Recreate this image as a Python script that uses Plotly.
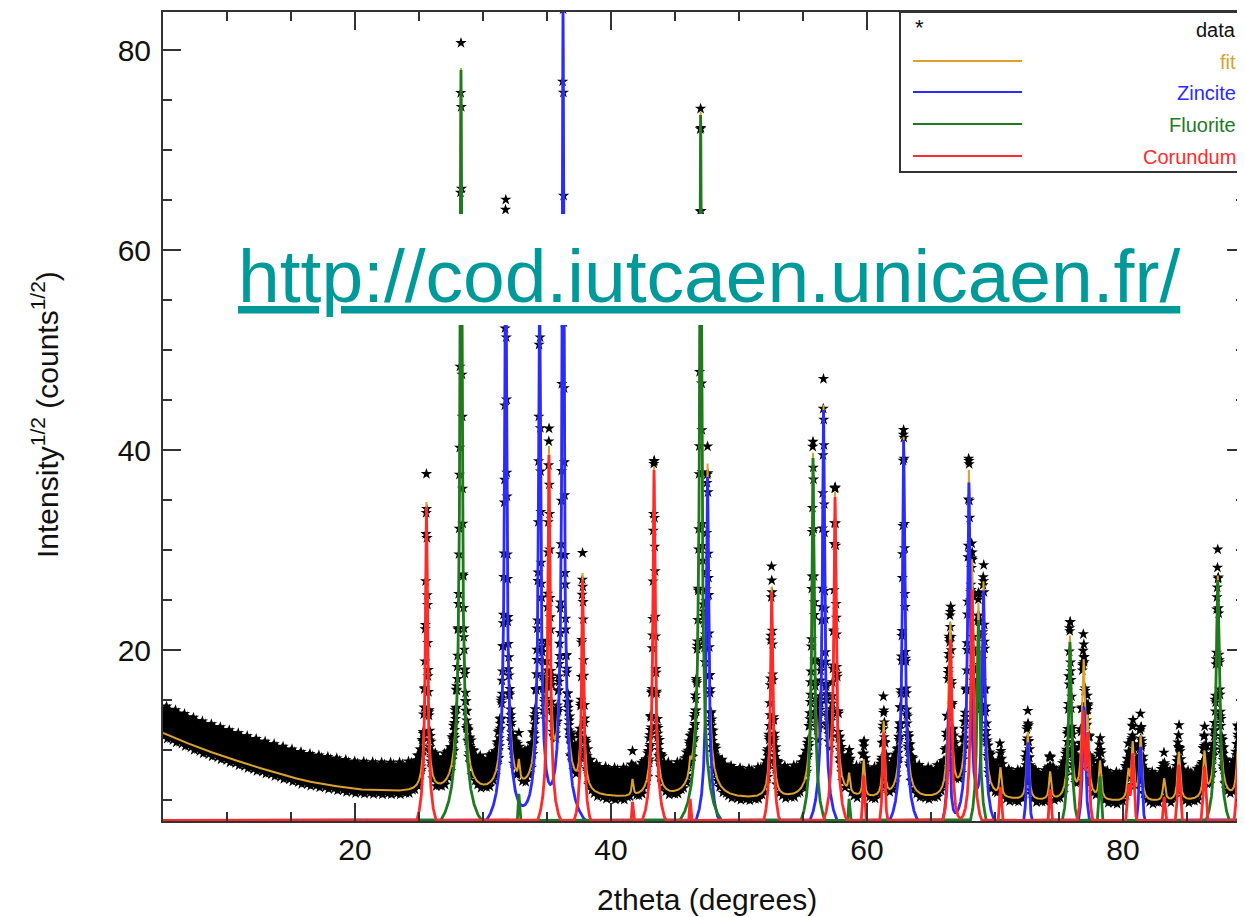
import numpy as np
import plotly.graph_objects as go

# ---------------- data ----------------
# peak positions (2theta, deg), peak heights (sqrt counts) and widths (deg)
zincite_pos = [31.77, 34.42, 36.25, 47.54, 56.60, 62.86, 66.38, 67.96, 69.10, 72.56, 76.95, 81.37, 89.60]
zincite_h   = [63.0, 57.0, 84.5, 37.3, 44.0, 41.0, 14.0, 36.7, 25.8, 10.7, 14.3, 10.3, 18.0]
zincite_w   = [0.13, 0.13, 0.11, 0.14, 0.14, 0.15, 0.16, 0.16, 0.16, 0.17, 0.18, 0.19, 0.21]

fluorite_pos = [28.28, 32.80, 47.00, 55.78, 58.60, 68.70, 75.85, 78.20, 87.40]
fluorite_h   = [78.0, 5.5, 73.5, 39.2, 5.0, 23.0, 20.8, 7.3, 27.0]
fluorite_w   = [0.12, 0.14, 0.13, 0.14, 0.15, 0.16, 0.17, 0.18, 0.20]

corundum_pos = [25.58, 35.15, 37.78, 41.68, 43.36, 46.18, 52.55, 57.50, 59.74, 61.30, 66.52,
                68.21, 70.42, 74.30, 76.87, 77.23, 80.42, 80.75, 83.21, 84.36, 86.36, 88.99]
corundum_h   = [34.3, 39.5, 27.0, 4.5, 38.0, 5.0, 25.8, 35.3, 7.3, 11.7, 21.0,
                26.0, 6.2, 6.0, 13.7, 11.3, 6.0, 9.5, 5.2, 8.5, 8.3, 9.2]
corundum_w   = [0.13, 0.13, 0.13, 0.14, 0.14, 0.14, 0.14, 0.15, 0.15, 0.15, 0.16,
                0.16, 0.17, 0.17, 0.18, 0.18, 0.19, 0.19, 0.19, 0.20, 0.20, 0.21]

# background of the pattern (sqrt counts)
bg_x = [5, 8, 12, 16, 20, 25, 30, 40, 50, 60, 70, 80, 90]
bg_y = [11.7, 10.1, 8.4, 6.9, 6.0, 5.6, 5.3, 5.0, 4.9, 4.9, 4.8, 4.7, 4.8]

# spread of observed points around the fit (sqrt counts)
data_spread = [0.3, 1.6, 0.9, 2.2, -0.3, 1.2, 1.9, 0.6, 1.5, 2.5, 0.1, 1.0, 1.8, 0.4,
               2.8, 0.8, 1.4, -0.4, 2.1, 1.1, 0.0, 2.4, 1.6, 0.7, 1.3, 2.6, 0.2,
               1.7, 0.5, 2.0, -0.2, 1.0, 2.3, 0.9, 1.5]

x_ticks = [20, 40, 60, 80]
y_ticks = [20, 40, 60, 80]

X_MIN, X_MAX = 5.0, 89.53
Y_MIN, Y_MAX = 2.9, 83.8

# ---------------- profiles ----------------
def counts(x, pos, h, w):
    out = np.zeros_like(x)
    for p, hh, ww in zip(pos, h, w):
        out += hh ** 2 / (1.0 + (2.0 * (x - p) / ww) ** 2)
    return out

x = np.arange(X_MIN, X_MAX + 0.005, 0.01)
bg = np.interp(x, bg_x, bg_y)
Iz = counts(x, zincite_pos, zincite_h, zincite_w)
If = counts(x, fluorite_pos, fluorite_h, fluorite_w)
Ic = counts(x, corundum_pos, corundum_h, corundum_w)
fit = np.sqrt(bg ** 2 + Iz + If + Ic)
floor = Y_MIN + 0.05
zin = np.maximum(np.sqrt(Iz), floor)
flu = np.maximum(np.sqrt(If), floor)
cor = np.maximum(np.sqrt(Ic), floor)

xd = x[::2]
yd = fit[::2] + np.resize(np.array(data_spread), len(xd))

C_FIT = "#DBA22E"
C_ZN = "#2B2BFF"
C_FL = "#1F7A1F"
C_CO = "#FF2A2A"

fig = go.Figure()
fig.add_trace(go.Scatter(x=xd, y=yd, mode="markers", name="data",
                         marker=dict(symbol="star", size=8.5, color="black", line=dict(width=0))))
fig.add_trace(go.Scatter(x=x, y=fit, mode="lines", name="fit", line=dict(color=C_FIT, width=2)))
fig.add_trace(go.Scatter(x=x, y=zin, mode="lines", name="Zincite", line=dict(color=C_ZN, width=2.8)))
fig.add_trace(go.Scatter(x=x, y=flu, mode="lines", name="Fluorite", line=dict(color=C_FL, width=2.8)))
fig.add_trace(go.Scatter(x=x, y=cor, mode="lines", name="Corundum", line=dict(color=C_CO, width=2.8)))

# page body adds an 8px offset; figure is sized so the plot lands where the reference has it
OFF = 8
W, H = 1245 - OFF, 917 - OFF
L, R, T, B = 163 - OFF, 0, 12 - OFF, 96
PW, PH = W - L - R, H - T - B

def px(v):  # screen pixel -> paper x
    return (v - OFF - L) / PW

def py(v):  # screen pixel -> paper y
    return (H - B - (v - OFF)) / PH

FONT = "Liberation Sans, Arial, sans-serif"

axis_common = dict(showline=True, linecolor="#333", linewidth=2, mirror="allticks",
                   ticks="inside", ticklen=18, tickwidth=2, tickcolor="#333",
                   showgrid=False, zeroline=False,
                   tickfont=dict(family=FONT, size=30, color="#111"))

fig.update_xaxes(range=[X_MIN, X_MAX], tickmode="array", tickvals=x_ticks,
                 ticktext=[str(t) for t in x_ticks], ticklabelstandoff=1,
                 minor=dict(tickmode="linear", tick0=0, dtick=5, ticks="inside", ticklen=9,
                            tickwidth=2, tickcolor="#333"),
                 **axis_common)
fig.update_yaxes(range=[Y_MIN, Y_MAX], tickmode="array", tickvals=y_ticks,
                 ticktext=[str(t) for t in y_ticks], ticklabelstandoff=4,
                 minor=dict(tickmode="linear", tick0=0, dtick=5, ticks="inside", ticklen=9,
                            tickwidth=2, tickcolor="#333"),
                 **axis_common)

shapes = []
annotations = []

# legend box
shapes.append(dict(type="rect", xref="paper", yref="paper", x0=px(900), x1=px(1260),
                   y0=py(172), y1=py(12), line=dict(color="#333", width=2),
                   fillcolor="white", layer="above"))
leg = [("fit", C_FIT, 61), ("Zincite", C_ZN, 92), ("Fluorite", C_FL, 124), ("Corundum", C_CO, 156)]
for name, col, yy in leg:
    shapes.append(dict(type="line", xref="paper", yref="paper", x0=px(913), x1=px(1022),
                       y0=py(yy), y1=py(yy), line=dict(color=col, width=2), layer="above"))
    annotations.append(dict(text=name, xref="paper", yref="paper", x=px(1238), y=py(yy + 1),
                            xanchor="right", yanchor="middle", showarrow=False,
                            font=dict(family=FONT, size=20, color=col)))
annotations.append(dict(text="data", xref="paper", yref="paper", x=px(1238), y=py(30),
                        xanchor="right", yanchor="middle", showarrow=False,
                        font=dict(family=FONT, size=20, color="#111")))
annotations.append(dict(text="*", xref="paper", yref="paper", x=px(919), y=py(27),
                        xanchor="center", yanchor="middle", showarrow=False,
                        font=dict(family=FONT, size=22, color="#111")))

# white banner behind the URL
shapes.append(dict(type="rect", xref="paper", yref="paper", x0=px(232), x1=px(1182),
                   y0=py(325), y1=py(214), line=dict(width=0), fillcolor="white", layer="above"))
annotations.append(dict(text="<u>http://cod.iutcaen.unicaen.fr/</u>", xref="paper", yref="paper",
                        x=px(236), y=py(276), xanchor="left", yanchor="middle", showarrow=False,
                        font=dict(family=FONT, size=75, color="#009999")))

# axis titles
annotations.append(dict(text="2theta (degrees)", xref="paper", yref="paper", x=px(707), y=py(899),
                        xanchor="center", yanchor="middle", showarrow=False,
                        font=dict(family=FONT, size=30, color="#111")))
annotations.append(dict(text="Intensity<sup>1/2</sup> (counts<sup>1/2</sup>)", xref="paper", yref="paper",
                        x=px(45), y=py(415), xanchor="center", yanchor="middle", showarrow=False,
                        textangle=-90, font=dict(family=FONT, size=30, color="#111")))

fig.update_layout(width=W, height=H, margin=dict(l=L, r=R, t=T, b=B, autoexpand=False),
                  paper_bgcolor="white", plot_bgcolor="white", showlegend=False,
                  shapes=shapes, annotations=annotations, font=dict(family=FONT))

fig.write_html("out.html")
